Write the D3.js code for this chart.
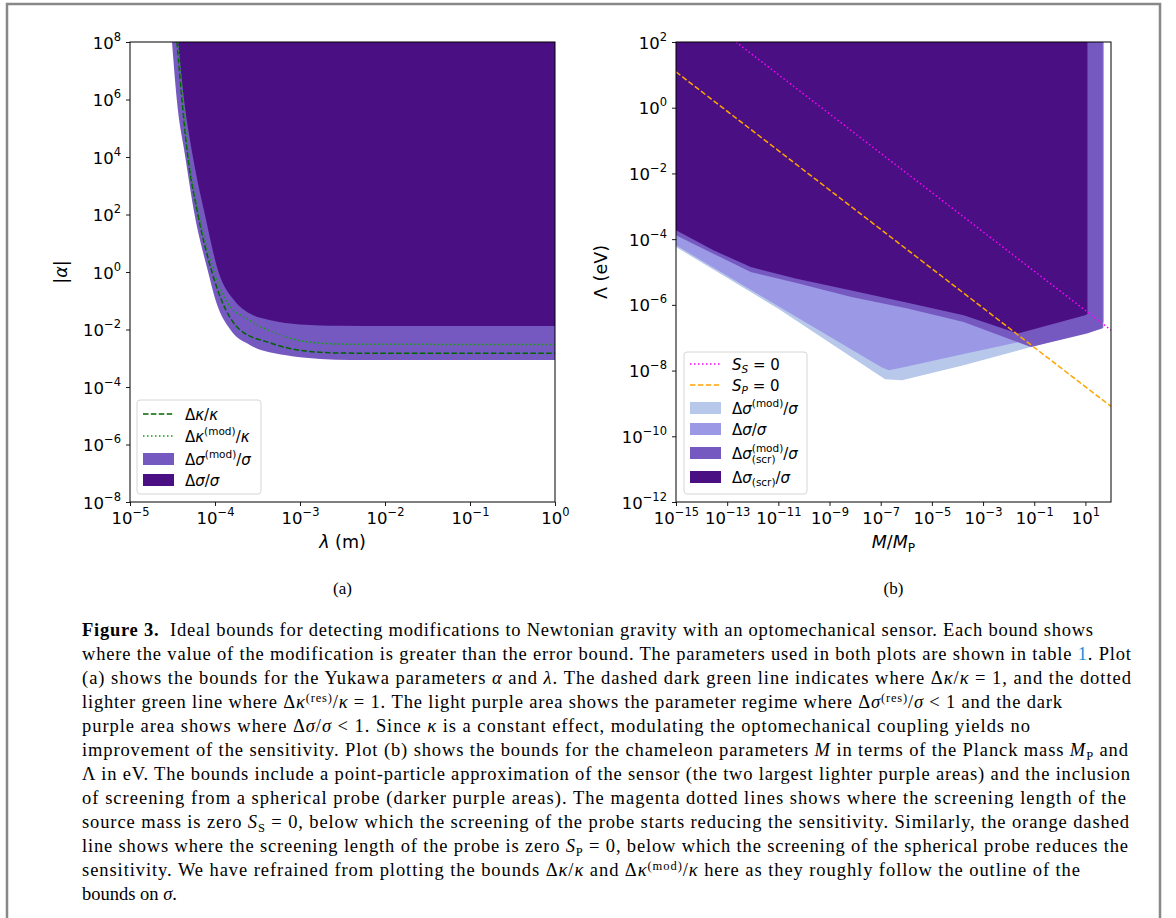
<!DOCTYPE html>
<html>
<head>
<meta charset="utf-8">
<script src="https://d3js.org/d3.v7.min.js"></script>
<style>
  body { margin: 0; background: #fff; }
  svg text { font-family: "DejaVu Sans", sans-serif; fill: #000; white-space: pre; }
</style>
</head>
<body>
<script>
// ---- panel (a): Yukawa bounds, points are [lambda (m), |alpha|] ----
const sigmaModA = [[3.12e-5, 1e8], [3.55e-5, 1e6], [4.47e-5, 1e4], [5.75e-5, 1e2], [8.3e-5, 1],
  [1.02e-4, 1e-1], [1.51e-4, 1e-2], [2.57e-4, 2.9e-3], [6.6e-4, 1.29e-3], [1.74e-3, 9.5e-4],
  [3.9e-3, 8.7e-4], [1, 8.7e-4]];
const sigmaA = [[3.67e-5, 1e8], [4.32e-5, 1e6], [5.5e-5, 1e4], [7.6e-5, 1e2], [1.1e-4, 1],
  [1.7e-4, 1e-1], [2.6e-4, 3.5e-2], [4.5e-4, 2.1e-2], [1e-3, 1.5e-2], [3e-3, 1.35e-2],
  [1e-2, 1.32e-2], [1, 1.32e-2]];
const kappaA = [[3.57e-5, 1e8], [4.8e-5, 1e4], [6.3e-5, 1e2], [9.2e-5, 1], [1.2e-4, 1e-1],
  [1.95e-4, 1e-2], [4.5e-4, 3.4e-3], [1.17e-3, 1.78e-3], [3.3e-3, 1.51e-3], [1, 1.48e-3]];
const kappaModA = [[3.67e-5, 1e8], [4.9e-5, 1e4], [6.45e-5, 1e2], [9.8e-5, 1], [1.35e-4, 1e-1],
  [2.5e-4, 2.14e-2], [5.1e-4, 7.6e-3], [1.17e-3, 3.8e-3], [3.3e-3, 3.1e-3], [1, 3.0e-3]];

// ---- panel (b): chameleon bounds, points are [M/M_P, Lambda (eV)] ----
const sigmaModB = [[1e-15, 5.75e-5], [1e-11, 7.6e-7], [5.5e-8, 9.1e-9], [1.5e-7, 5.4e-9],
  [6.8e-7, 5.1e-9], [1.74e-4, 1.45e-8], [7.4e-2, 5.2e-8], [44, 1.9e-7], [52, 2e-7], [52, 1e2]];
const sigmaB = [[1e-15, 6.5e-5], [1e-11, 9.1e-7], [1.07e-7, 1.26e-8], [2.1e-7, 1.02e-8],
  [5.75e-7, 1.2e-8], [1.74e-4, 3.2e-8], [7.4e-2, 8.9e-8], [44, 2.8e-7], [52, 2.95e-7], [52, 1e2]];
const sigmaScrModB = [[1e-15, 1.32e-4], [2.9e-14, 3.6e-5], [8.3e-13, 1e-5], [4.7e-11, 4.7e-6],
  [7.2e-9, 1.74e-6], [1.12e-6, 7.8e-7], [1.74e-4, 3.0e-7], [7.4e-2, 5.2e-8], [11.5, 1.35e-7],
  [44, 1.9e-7], [48, 2e-7], [48, 1e2]];
const sigmaScrB = [[1e-15, 1.86e-4], [2.9e-14, 4.6e-5], [8.3e-13, 1.41e-5], [4.7e-11, 6.3e-6],
  [7.2e-9, 2.75e-6], [1.12e-6, 1.15e-6], [1.74e-4, 4.8e-7], [2.3e-2, 1.35e-7], [9.8, 4.8e-7],
  [12, 5.3e-7], [12, 1e2]];
const lineSS = [[2.2e-13, 1e2], [1e2, 1.7e-7]];
const lineSP = [[1e-15, 12.3], [1e2, 8.1e-10]];

// ticks
const xTicksA = [1e-5, 1e-4, 1e-3, 1e-2, 1e-1, 1e0];
const yTicksA = [1e8, 1e6, 1e4, 1e2, 1e0, 1e-2, 1e-4, 1e-6, 1e-8];
const xTicksB = [1e-15, 1e-13, 1e-11, 1e-9, 1e-7, 1e-5, 1e-3, 1e-1, 1e1];
const yTicksB = [1e2, 1e0, 1e-2, 1e-4, 1e-6, 1e-8, 1e-10, 1e-12];

// legend labels ("~" separates pieces, ":i" italic, ":^" sup, ":_" sub, ":^_" stacked)
const legendA = ["Δ~κ:i~/~κ:i", "Δ~κ:i~(mod):^~/~κ:i", "Δ~σ:i~(mod):^~/~σ:i", "Δ~σ:i~/~σ:i"];
const legendB = ["S:i~S:_i~ = 0", "S:i~P:_i~ = 0", "Δ~σ:i~(mod):^~/~σ:i", "Δ~σ:i~/~σ:i",
  "Δ~σ:i~(mod),(scr):^_~/~σ:i", "Δ~σ:i~(scr):_~/~σ:i"];

const captionLines = [
  "Figure 3.:b~  Ideal bounds for detecting modifications to Newtonian gravity with an optomechanical sensor. Each bound shows",
  "where the value of the modification is greater than the error bound. The parameters used in both plots are shown in table ~1:a~. Plot",
  "(a) shows the bounds for the Yukawa parameters ~α:i~ and ~λ:i~. The dashed dark green line indicates where Δ~κ:i~/~κ:i~ = 1, and the dotted",
  "lighter green line where Δ~κ:i~(res):^~/~κ:i~ = 1. The light purple area shows the parameter regime where Δ~σ:i~(res):^~/~σ:i~ < 1 and the dark",
  "purple area shows where Δ~σ:i~/~σ:i~ < 1. Since ~κ:i~ is a constant effect, modulating the optomechanical coupling yields no",
  "improvement of the sensitivity. Plot (b) shows the bounds for the chameleon parameters ~M:i~ in terms of the Planck mass ~M:i~P:_~ and",
  "Λ in eV. The bounds include a point-particle approximation of the sensor (the two largest lighter purple areas) and the inclusion",
  "of screening from a spherical probe (darker purple areas). The magenta dotted lines shows where the screening length of the",
  "source mass is zero ~S:i~S:_~ = 0, below which the screening of the probe starts reducing the sensitivity. Similarly, the orange dashed",
  "line shows where the screening length of the probe is zero ~S:i~P:_~ = 0, below which the screening of the spherical probe reduces the",
  "sensitivity. We have refrained from plotting the bounds Δ~κ:i~/~κ:i~ and Δ~κ:i~(mod):^~/~κ:i~ here as they roughly follow the outline of the",
  "bounds on ~σ:i~."
];
const captionEnds = [1093, 1131, 1131, 1062, 1030, 1128, 1130, 1126, 1129, 1128, 1080, 0];

const C = { dark: "#4b0f84", mid: "#7659c0", lav: "#9b98e6", light: "#b7c8ea" };

const svg = d3.select("body").append("svg").attr("width", 1176).attr("height", 918);
svg.append("rect").attr("width", 1176).attr("height", 918).attr("fill", "#fff");
svg.append("path").attr("d", "M7,918V4H1160V918").attr("fill", "none")
  .attr("stroke", "#888").attr("stroke-width", 2.5);

function pieces(spec) {
  return spec.split("~").map(tok => {
    const k = tok.lastIndexOf(":");
    if (k > 0 && /^[ib^_a]+$/.test(tok.slice(k + 1))) return { t: tok.slice(0, k), m: tok.slice(k + 1) };
    return { t: tok, m: "" };
  });
}

// draws math-ish text piece by piece, returns width
function drawMath(g, x, y, spec, size) {
  let cx = x;
  pieces(spec).forEach(p => {
    const small = size * 0.7;
    if (p.m === "^_") {
      const [a, b] = p.t.split(",");
      const t1 = g.append("text").attr("x", cx).attr("y", y - size * 0.42).style("font-size", small + "px").text(a);
      const t2 = g.append("text").attr("x", cx).attr("y", y + size * 0.3).style("font-size", small + "px").text(b);
      cx += Math.max(t1.node().getComputedTextLength(), t2.node().getComputedTextLength());
      return;
    }
    let yy = y, fs = size;
    if (p.m.includes("^")) { yy = y - size * 0.42; fs = small; }
    if (p.m.includes("_")) { yy = y + size * 0.22; fs = small; }
    const t = g.append("text").attr("x", cx).attr("y", yy).style("font-size", fs + "px")
      .attr("font-style", p.m.includes("i") ? "italic" : "normal").text(p.t);
    cx += t.node().getComputedTextLength();
  });
  return cx - x;
}

function centeredMath(parent, cx, cy, spec, size, rotate) {
  const g = parent.append("g").attr("transform", `translate(${cx},${cy})` + (rotate ? " rotate(-90)" : ""));
  const inner = g.append("g");
  const w = drawMath(inner, 0, 0, spec, size);
  inner.attr("transform", `translate(${-w / 2},${size * 0.35})`);
}

function powLabel(sel, v) {
  const e = Math.round(Math.log10(v));
  sel.text(null);
  sel.append("tspan").text("10");
  sel.append("tspan").attr("dy", -8).style("font-size", "11.5px").text(e < 0 ? "−" + (-e) : String(e));
}

function panel(opts) {
  const { x, y, id } = opts;
  const g = svg.append("g");
  const [x0, x1] = x.range(), [y1, y0] = y.range();
  g.append("clipPath").attr("id", id).append("rect")
    .attr("x", x0).attr("y", y0).attr("width", x1 - x0).attr("height", y1 - y0);
  const plot = g.append("g").attr("clip-path", `url(#${id})`);
  const line = d3.line().x(d => x(d[0])).y(d => y(d[1]));

  opts.areas.forEach(a => {
    const top = y.domain()[1];
    plot.append("path")
      .attr("d", line.curve(a.curve)(a.data) + (a.closeRight
        ? `L${x(x.domain()[1])},${y(top)}Z`
        : `L${x(x.domain()[0])},${y(top)}Z`))
      .attr("fill", a.color);
  });
  opts.lines.forEach(l => {
    plot.append("path").attr("d", line.curve(l.curve)(l.data)).attr("fill", "none")
      .attr("stroke", l.color).attr("stroke-width", 1.5).attr("stroke-dasharray", l.dash);
  });

  const xa = g.append("g").attr("transform", `translate(0,${y1})`)
    .call(d3.axisBottom(x).tickValues(opts.xTicks).tickSize(4).tickSizeOuter(0));
  xa.selectAll("text").attr("y", 22).attr("dy", null)
    .style("font-size", "16.5px").style("font-family", "'DejaVu Sans'")
    .each(function (d) { powLabel(d3.select(this), d); });
  const ya = g.append("g").attr("transform", `translate(${x0},0)`)
    .call(d3.axisLeft(y).tickValues(opts.yTicks).tickSize(4).tickSizeOuter(0));
  ya.selectAll("text").attr("x", -9).attr("dy", null).attr("y", 6)
    .style("font-size", "16.5px").style("font-family", "'DejaVu Sans'")
    .each(function (d) { powLabel(d3.select(this), d); });
  g.selectAll(".domain").remove();
  g.selectAll(".tick line").attr("stroke", "#000").attr("stroke-width", 0.9);
  g.append("rect").attr("x", x0).attr("y", y0).attr("width", x1 - x0).attr("height", y1 - y0)
    .attr("fill", "none").attr("stroke", "#000").attr("stroke-width", 1);

  // legend
  const L = opts.legend;
  const lg = g.append("g");
  lg.append("rect").attr("x", L.x).attr("y", L.y).attr("width", L.w).attr("height", L.h)
    .attr("rx", 3).attr("fill", "#fff").attr("fill-opacity", 0.8).attr("stroke", "#d6d6d6");
  L.items.forEach((it, i) => {
    const cy = L.rows[i];
    if (it.color && !it.dash) {
      lg.append("rect").attr("x", L.x + 6).attr("y", cy - 6).attr("width", 31).attr("height", 12).attr("fill", it.color);
    } else {
      lg.append("line").attr("x1", L.x + 6).attr("x2", L.x + 37).attr("y1", cy).attr("y2", cy)
        .attr("stroke", it.stroke).attr("stroke-width", 1.5).attr("stroke-dasharray", it.dash);
    }
    drawMath(lg, L.x + 48, cy + 5.5, it.label, 15);
  });

  centeredMath(g, (x0 + x1) / 2, opts.xLabelY, opts.xLabel, 17.5, false);
  centeredMath(g, opts.yLabelX, (y0 + y1) / 2, opts.yLabel, 17.5, true);
  g.append("text").attr("x", (x0 + x1) / 2).attr("y", 594).attr("text-anchor", "middle")
    .style("font-size", "17px").style("font-family", "'Liberation Serif', serif")
    .text(opts.tag);
}

const xA = d3.scaleLog().domain([1e-5, 1]).range([130, 555]);
const yA = d3.scaleLog().domain([1e-8, 1e8]).range([502, 42]);
const xB = d3.scaleLog().domain([1e-15, 1e2]).range([676, 1111]);
const yB = d3.scaleLog().domain([1e-12, 1e2]).range([502, 42]);

panel({
  id: "clipA", x: xA, y: yA, xTicks: xTicksA, yTicks: yTicksA,
  areas: [
    { data: sigmaModA, color: C.mid, curve: d3.curveMonotoneX, closeRight: true },
    { data: sigmaA, color: C.dark, curve: d3.curveMonotoneX, closeRight: true }
  ],
  lines: [
    { data: kappaA, color: "#006400", dash: "5.5,2.4", curve: d3.curveMonotoneX },
    { data: kappaModA, color: "#1a9a1a", dash: "1.5,2.5", curve: d3.curveMonotoneX }
  ],
  legend: {
    x: 137, y: 400, w: 124, h: 94, rows: [414, 436, 459, 480],
    items: [
      { label: legendA[0], stroke: "#006400", dash: "5.5,2.4" },
      { label: legendA[1], stroke: "#1a9a1a", dash: "1.5,2.5" },
      { label: legendA[2], color: C.mid },
      { label: legendA[3], color: C.dark }
    ]
  },
  xLabel: "λ:i~\u00a0(m)", xLabelY: 542, yLabel: "|~α:i~|", yLabelX: 61, tag: "(a)"
});

panel({
  id: "clipB", x: xB, y: yB, xTicks: xTicksB, yTicks: yTicksB,
  areas: [
    { data: sigmaModB, color: C.light, curve: d3.curveLinear },
    { data: sigmaB, color: C.lav, curve: d3.curveLinear },
    { data: sigmaScrModB, color: C.mid, curve: d3.curveLinear },
    { data: sigmaScrB, color: C.dark, curve: d3.curveLinear }
  ],
  lines: [
    { data: lineSS, color: "#ff00ff", dash: "1.5,2.5", curve: d3.curveLinear },
    { data: lineSP, color: "#ffa500", dash: "5.5,2.4", curve: d3.curveLinear }
  ],
  legend: {
    x: 684, y: 352, w: 123, h: 142, rows: [364, 385, 408, 429, 453, 477],
    items: [
      { label: legendB[0], stroke: "#ff00ff", dash: "1.5,2.5" },
      { label: legendB[1], stroke: "#ffa500", dash: "5.5,2.4" },
      { label: legendB[2], color: C.light },
      { label: legendB[3], color: C.lav },
      { label: legendB[4], color: C.mid },
      { label: legendB[5], color: C.dark }
    ]
  },
  xLabel: "M:i~/~M:i~P:_", xLabelY: 542, yLabel: "Λ\u00a0(eV)", yLabelX: 601, tag: "(b)"
});

// caption
const cap = svg.append("g");
captionLines.forEach((ln, i) => {
  const t = cap.append("text").attr("x", 82).attr("y", 636 + i * 24)
    .style("font-size", "18.5px").style("font-family", "'Liberation Serif', serif");
  let shift = 0;
  pieces(ln).forEach(p => {
    const s = t.append("tspan").text(p.t);
    let target = 0;
    if (p.m.includes("^")) target = -6;
    if (p.m.includes("_")) target = 4;
    if (target !== shift) { s.attr("dy", target - shift); shift = target; }
    if (p.m.includes("^") || p.m.includes("_")) s.style("font-size", "12.5px");
    if (p.m.includes("i")) s.attr("font-style", "italic");
    if (p.m.includes("b")) s.attr("font-weight", "bold");
    if (p.m.includes("a")) s.style("fill", "#1b8ad6");
  });
  if (captionEnds[i]) t.attr("textLength", captionEnds[i] - 82).attr("lengthAdjust", "spacing");
});
</script>
</body>
</html>
